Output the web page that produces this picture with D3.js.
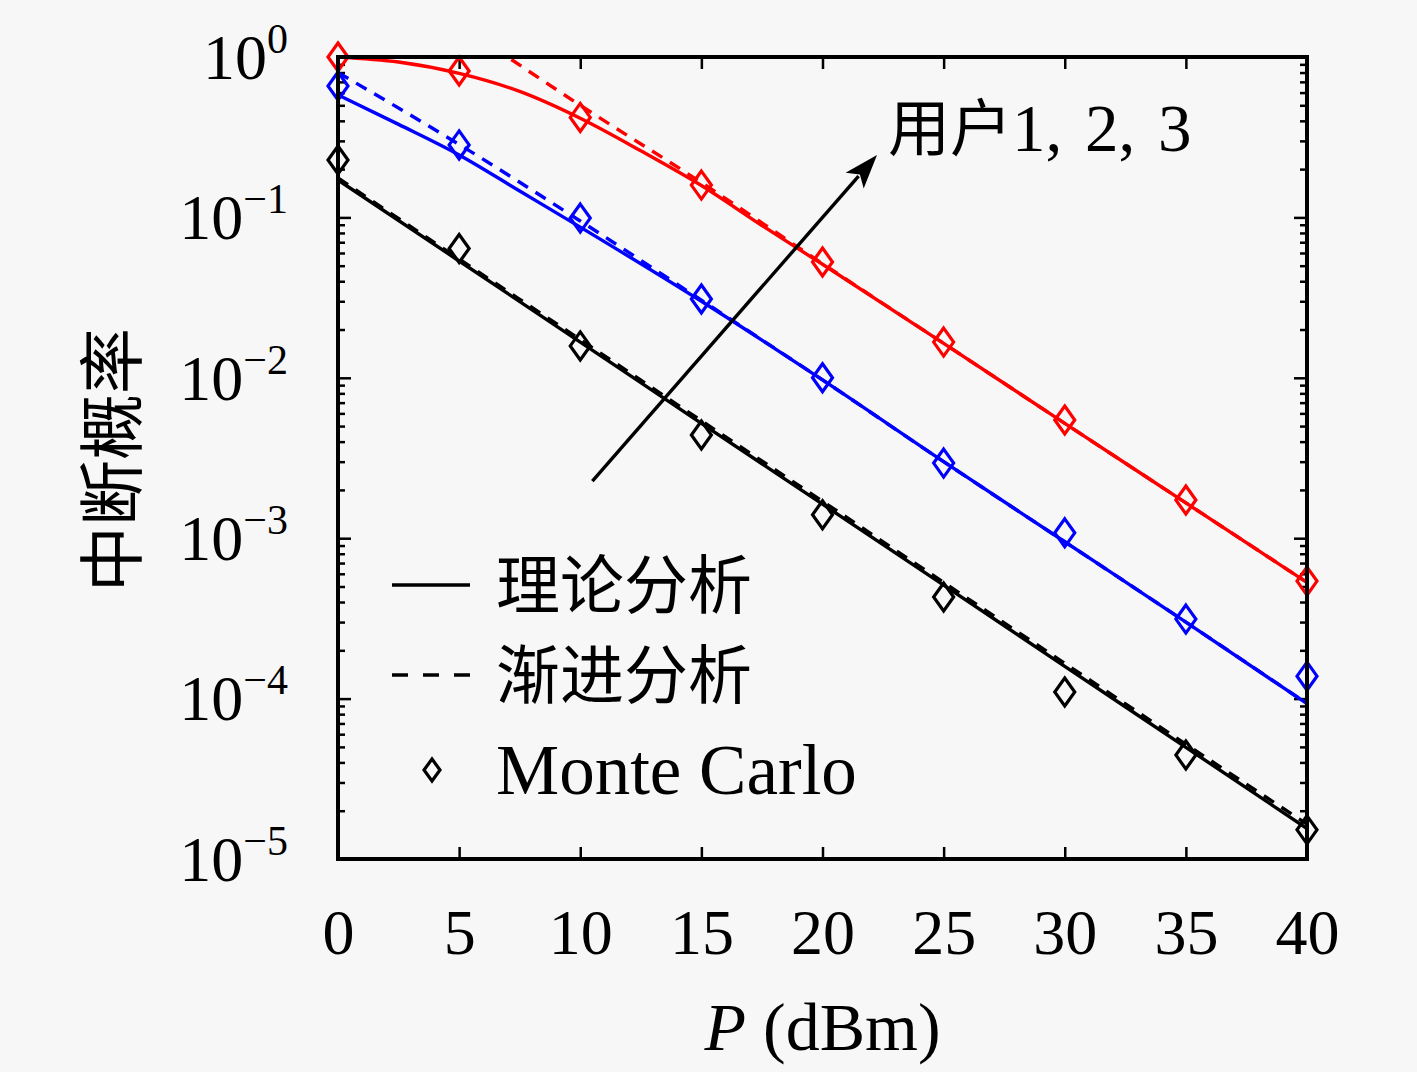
<!DOCTYPE html>
<html lang="zh">
<head>
<meta charset="UTF-8">
<title>中断概率</title>
<script src="https://cdnjs.cloudflare.com/ajax/libs/d3/7.8.5/d3.min.js"></script>
<style>
  body { margin: 0; background: #f7f7f7; }
  text { font-family: "Liberation Serif", "DejaVu Serif", serif; fill: #000; }
  .cjk { font-family: "Noto Sans CJK SC", sans-serif; }
</style>
</head>
<body>
<div id="wrapper"></div>
<script>
// x 轴刻度 (dBm) 与 y 轴十进制刻度
const powerTicks = [0, 5, 10, 15, 20, 25, 30, 35, 40]
const decadeTicks = [1, 1e-1, 1e-2, 1e-3, 1e-4, 1e-5]
const decadeLabels = ['0', '−1', '−2', '−3', '−4', '−5']

// Monte Carlo 仿真点
const mcP = [0, 5, 10, 15, 20, 25, 30, 35, 40]
const mcUser1 = [0.228, 0.064, 0.0158, 0.0044, 0.0014, 0.00043, 0.00011, 0.0000445, 0.0000152]
const mcUser2 = [0.66, 0.283, 0.099, 0.031, 0.01, 0.00294, 0.00108, 0.000313, 0.000138]
const mcUser3 = [1.0, 0.818, 0.42, 0.159, 0.0527, 0.0167, 0.00546, 0.00173, 0.00054]

// 理论分析 (实线)
const theoryP1 = [0, 5, 10, 15, 20, 25, 30, 35, 40]
const theoryUser1 = [0.171, 0.0535, 0.0167, 0.0052, 0.00163, 0.00051, 0.000159, 0.0000497, 0.0000155]
const theoryP2 = [0, 2.5, 5, 7.5, 10, 15, 20, 25, 30, 35, 40]
const theoryUser2 = [0.58, 0.38, 0.245, 0.146, 0.087, 0.03, 0.0097, 0.003, 0.00095, 0.0003, 0.000093]
const theoryP3 = [0, 2.5, 5, 7.5, 10, 12.5, 15, 17.5, 20, 25, 30, 35, 40]
const theoryUser3 = [1.0, 0.93, 0.79, 0.61, 0.415, 0.26, 0.158, 0.089, 0.051, 0.0164, 0.0052, 0.00166, 0.00053]

// 渐进分析 (虚线)
const asymP1 = [0, 5, 10, 15, 20, 25, 30, 35, 40]
const asymUser1 = [0.176, 0.055, 0.0173, 0.0054, 0.0017, 0.00053, 0.000166, 0.000052, 0.0000165]
const asymP2 = [0, 5, 10, 15, 20, 25, 30, 35, 40]
const asymUser2 = [0.8, 0.285, 0.095, 0.0305, 0.0097, 0.003, 0.00095, 0.0003, 0.000093]
const asymP3 = [5, 10, 15, 20, 25, 30, 35, 40]
const asymUser3 = [1.6, 0.5, 0.165, 0.0515, 0.0164, 0.0052, 0.00166, 0.00053]

// 箭头注释 (数据坐标)
const arrowFrom = [10.5, 0.00227]
const arrowTo = [22.25, 0.245]
const arrowText = [22.7, 0.26]

function drawChart() {
    const dimensions = {
        width: 1417,
        height: 1072,
        margin: { top: 57, right: 110, bottom: 213, left: 338 }
    }
    dimensions.boundedWidth = dimensions.width - dimensions.margin.left - dimensions.margin.right
    dimensions.boundedHeight = dimensions.height - dimensions.margin.top - dimensions.margin.bottom

    const wrapper = d3.select('#wrapper')
        .append('svg')
            .attr('width', dimensions.width)
            .attr('height', dimensions.height)
            .style('display', 'block')
            .style('background', '#f7f7f7')

    const bounds = wrapper.append('g')
        .attr('transform', `translate(${dimensions.margin.left},${dimensions.margin.top})`)

    const xScale = d3.scaleLinear()
        .domain([0, 40])
        .range([0, dimensions.boundedWidth])

    const yScale = d3.scaleLog()
        .domain([1e-5, 1])
        .range([dimensions.boundedHeight, 0])

    bounds.append('clipPath').attr('id', 'plotClip')
        .append('rect')
            .attr('width', dimensions.boundedWidth)
            .attr('height', dimensions.boundedHeight)

    // 刻度 (向内)
    const minorTicks = []
    for (let e = -5; e < 0; e++) {
        for (let m = 2; m <= 9; m++) minorTicks.push(m * Math.pow(10, e))
    }
    const styleAxis = g => {
        g.select('.domain').remove()
        g.selectAll('.tick line').attr('stroke', '#000').attr('stroke-width', 2.5)
    }

    bounds.append('g')
        .attr('transform', `translate(0,${dimensions.boundedHeight})`)
        .call(d3.axisBottom(xScale).tickValues(powerTicks).tickSize(-12).tickPadding(50).tickFormat(d3.format('d')))
        .call(styleAxis)
        .call(g => g.selectAll('.tick text')
            .attr('font-size', 64)
            .attr('font-family', '"Liberation Serif", serif')
            .attr('dy', '0.71em'))

    bounds.append('g')
        .call(d3.axisTop(xScale).tickValues(powerTicks).tickSize(-12).tickFormat(''))
        .call(styleAxis)

    bounds.append('g')
        .call(d3.axisLeft(yScale).tickValues(decadeTicks).tickSize(-13).tickFormat(''))
        .call(styleAxis)
    bounds.append('g')
        .call(d3.axisLeft(yScale).tickValues(minorTicks).tickSize(-7).tickFormat(''))
        .call(styleAxis)
    bounds.append('g')
        .attr('transform', `translate(${dimensions.boundedWidth},0)`)
        .call(d3.axisRight(yScale).tickValues(decadeTicks).tickSize(-13).tickFormat(''))
        .call(styleAxis)
    bounds.append('g')
        .attr('transform', `translate(${dimensions.boundedWidth},0)`)
        .call(d3.axisRight(yScale).tickValues(minorTicks).tickSize(-7).tickFormat(''))
        .call(styleAxis)

    // y 轴标签 10^k
    const yLabels = bounds.append('g').selectAll('text')
        .data(decadeTicks)
        .join('text')
            .attr('x', -50)
            .attr('y', d => yScale(d))
            .attr('dy', '0.34em')
            .attr('text-anchor', 'end')
            .attr('font-size', 64)
    yLabels.append('tspan').text('10')
    yLabels.append('tspan')
        .attr('dy', '-0.62em')
        .attr('font-size', 42)
        .text((d, i) => decadeLabels[i])

    // 曲线
    const lineGen = d3.line()
        .x(d => xScale(d[0]))
        .y(d => yScale(d[1]))
        .curve(d3.curveMonotoneX)

    const zip = (xs, ys) => xs.map((x, i) => [x, ys[i]])
    const series = [
        { color: '#000000', theory: zip(theoryP1, theoryUser1), asym: zip(asymP1, asymUser1), mc: zip(mcP, mcUser1) },
        { color: '#0000ff', theory: zip(theoryP2, theoryUser2), asym: zip(asymP2, asymUser2), mc: zip(mcP, mcUser2) },
        { color: '#ff0000', theory: zip(theoryP3, theoryUser3), asym: zip(asymP3, asymUser3), mc: zip(mcP, mcUser3) }
    ]

    const lines = bounds.append('g').attr('clip-path', 'url(#plotClip)')
    series.forEach(s => {
        lines.append('path')
            .attr('d', lineGen(s.asym))
            .attr('fill', 'none')
            .attr('stroke', s.color)
            .attr('stroke-width', 3.4)
            .attr('stroke-dasharray', '12,9')
        lines.append('path')
            .attr('d', lineGen(s.theory))
            .attr('fill', 'none')
            .attr('stroke', s.color)
            .attr('stroke-width', 3.4)
    })

    const diamond = 'M0,-14L10,0L0,14L-10,0Z'
    series.forEach(s => {
        bounds.append('g').selectAll('path')
            .data(s.mc)
            .join('path')
                .attr('d', diamond)
                .attr('transform', d => `translate(${xScale(d[0])},${yScale(d[1])})`)
                .attr('fill', 'none')
                .attr('stroke', s.color)
                .attr('stroke-width', 3.2)
    })

    // 外框
    bounds.append('rect')
        .attr('width', dimensions.boundedWidth)
        .attr('height', dimensions.boundedHeight)
        .attr('fill', 'none')
        .attr('stroke', '#000')
        .attr('stroke-width', 4)

    // 箭头
    const x0 = xScale(arrowFrom[0]), y0 = yScale(arrowFrom[1])
    const x1 = xScale(arrowTo[0]), y1 = yScale(arrowTo[1])
    const ang = Math.atan2(y1 - y0, x1 - x0)
    const headLen = 34, headW = 12
    const bx = x1 - headLen * Math.cos(ang), by = y1 - headLen * Math.sin(ang)
    bounds.append('line')
        .attr('x1', x0).attr('y1', y0)
        .attr('x2', bx + 6 * Math.cos(ang)).attr('y2', by + 6 * Math.sin(ang))
        .attr('stroke', '#000')
        .attr('stroke-width', 3.4)
    bounds.append('path')
        .attr('d', `M${x1},${y1}L${bx - headW * Math.sin(ang)},${by + headW * Math.cos(ang)}L${bx + 8 * Math.cos(ang)},${by + 8 * Math.sin(ang)}L${bx + headW * Math.sin(ang)},${by - headW * Math.cos(ang)}Z`)
        .attr('fill', '#000')

    const ann = bounds.append('text')
        .attr('x', xScale(arrowText[0]))
        .attr('y', yScale(arrowText[1]))
        .attr('font-size', 67)
        .attr('word-spacing', 6)
    ann.append('tspan').attr('class', 'cjk').attr('font-size', 62).text('用户')
    ann.append('tspan').text('1, 2, 3')

    // 图例
    const legend = bounds.append('g').attr('transform', 'translate(54,528)')
    legend.append('line')
        .attr('x1', 0).attr('x2', 78).attr('y1', 0).attr('y2', 0)
        .attr('stroke', '#000').attr('stroke-width', 3.4)
    legend.append('text').attr('class', 'cjk')
        .attr('x', 104).attr('y', 0).attr('dy', '0.36em')
        .attr('font-size', 64)
        .text('理论分析')
    legend.append('line')
        .attr('x1', 0).attr('x2', 78).attr('y1', 90).attr('y2', 90)
        .attr('stroke', '#000').attr('stroke-width', 3.4)
        .attr('stroke-dasharray', '16,15')
    legend.append('text').attr('class', 'cjk')
        .attr('x', 104).attr('y', 90).attr('dy', '0.36em')
        .attr('font-size', 64)
        .text('渐进分析')
    legend.append('path')
        .attr('d', 'M0,-11L8,0L0,11L-8,0Z')
        .attr('transform', 'translate(40,185)')
        .attr('fill', 'none')
        .attr('stroke', '#000').attr('stroke-width', 3.2)
    legend.append('text')
        .attr('x', 104).attr('y', 185).attr('dy', '0.34em')
        .attr('font-size', 71)
        .text('Monte Carlo')

    // 轴标题
    const xLabel = wrapper.append('text')
        .attr('x', dimensions.margin.left + dimensions.boundedWidth / 2)
        .attr('y', 1050)
        .attr('text-anchor', 'middle')
        .attr('font-size', 68)
    xLabel.append('tspan').attr('font-style', 'italic').text('P')
    xLabel.append('tspan').text(' (dBm)')

    wrapper.append('text')
        .attr('class', 'cjk')
        .attr('transform', `translate(136,460) rotate(-90)`)
        .attr('text-anchor', 'middle')
        .attr('font-size', 66)
        .text('中断概率')
}

drawChart()
</script>
</body>
</html>
